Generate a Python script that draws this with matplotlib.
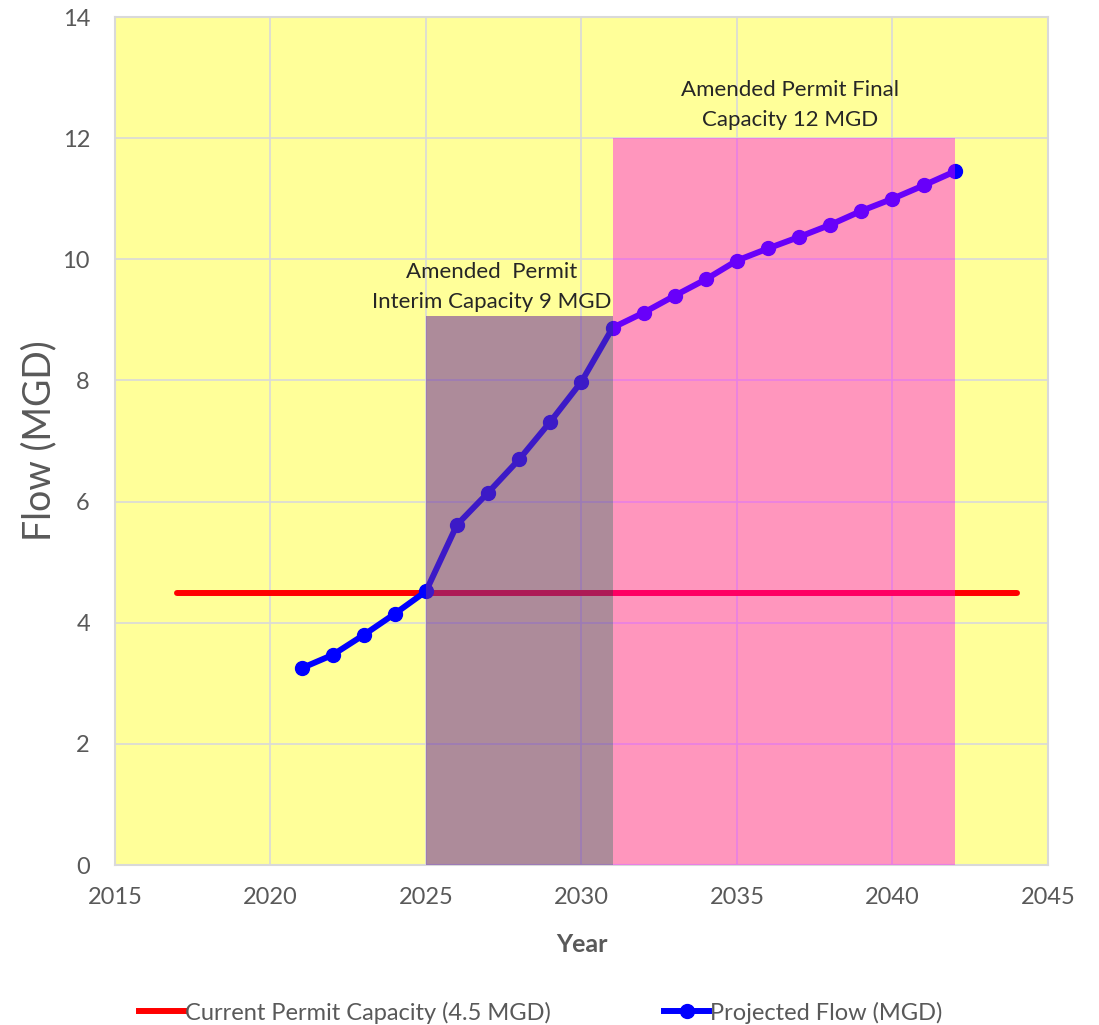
import matplotlib.pyplot as plt
from matplotlib.lines import Line2D

plt.rcParams['font.family'] = ['Lato', 'DejaVu Sans']

years = list(range(2021, 2043))
flow = [3.25, 3.47, 3.80, 4.15, 4.52, 5.62, 6.15, 6.70, 7.32, 7.98, 8.87,
        9.12, 9.40, 9.67, 9.98, 10.18, 10.37, 10.57, 10.80, 11.00, 11.22, 11.45]

permit_years = [2017, 2044]
permit_flow = [4.5, 4.5]

interim_years = [2025, 2031]
interim_cap = 9.07
final_years = [2031, 2042]
final_cap = 12

grey = '#595959'

fig = plt.figure(figsize=(10.99, 10.25), dpi=100)
ax = fig.add_axes([0.1046, 0.156, 0.849, 0.8274])
ax.set_facecolor('#FFFF99')

ax.set_xlim(2015, 2045)
ax.set_ylim(0, 14)
ax.set_xticks(range(2015, 2046, 5))
ax.set_yticks(range(0, 15, 2))
ax.grid(True, color='#d9d9d9', lw=1.2, zorder=0)
ax.set_axisbelow(True)
for s in ax.spines.values():
    s.set_color('#d9d9d9')
    s.set_linewidth(1.5)
ax.tick_params(length=0, labelsize=17, labelcolor=grey)
ax.tick_params(axis='x', pad=16)
ax.tick_params(axis='y', pad=18)

ax.plot(permit_years, permit_flow, color='#FF0000', lw=4.3, zorder=2,
        solid_capstyle='round')
ax.plot(years, flow, color='#0000FF', lw=4.3, marker='o', ms=10, zorder=2)

# translucent capacity blocks drawn over the lines
ax.fill_between(interim_years, 0, interim_cap, color='#6D2F9B', alpha=0.557,
                lw=0, zorder=3)
ax.fill_between(final_years, 0, final_cap, color='#FF00F3', alpha=0.41,
                lw=0, zorder=3)

ax.text(2027.1, 9.54, 'Amended  Permit\nInterim Capacity 9 MGD', ha='center',
        va='center', fontsize=16, color='#262626', linespacing=1.6, zorder=4)
ax.text(2036.7, 12.55, 'Amended Permit Final\nCapacity 12 MGD', ha='center',
        va='center', fontsize=16, color='#262626', linespacing=1.6, zorder=4)

ax.set_xlabel('Year', fontsize=18, color=grey, fontweight='bold', labelpad=18)
ax.set_ylabel('Flow (MGD)', fontsize=27, color=grey, labelpad=4)

handles = [Line2D([], [], color='#FF0000', lw=4.3),
           Line2D([], [], color='#0000FF', lw=4.3, marker='o', ms=10)]
fig.legend(handles, ['Current Permit Capacity (4.5 MGD)', 'Projected Flow (MGD)'],
           loc='center', bbox_to_anchor=(0.492, 0.012), ncol=2, frameon=False,
           fontsize=17, labelcolor=grey, handlelength=1.9, handletextpad=0.05,
           columnspacing=4.8)

fig.savefig('out.png', dpi=100)
